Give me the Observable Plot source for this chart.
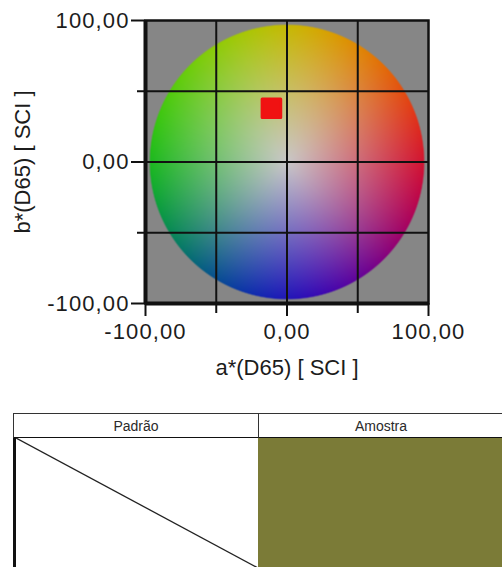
<!DOCTYPE html>
<html>
<head>
<meta charset="utf-8">
<script src="https://cdn.jsdelivr.net/npm/d3@7"></script>
<script src="https://cdn.jsdelivr.net/npm/@observablehq/plot@0.6"></script>
<style>
  html, body { margin: 0; padding: 0; background: #fff; overflow: hidden; width: 502px; height: 567px; }
  #chart svg { display: block; }
  #chart g[aria-label="x-axis tick label"] text,
  #chart g[aria-label="y-axis tick label"] text { letter-spacing: 1.1px; }
  #table { position: relative; width: 502px; height: 167px; overflow: hidden; font-family: "Liberation Sans", Arial, sans-serif; }
  .cell { position: absolute; box-sizing: border-box; }
  .head { border-top: 1.5px solid #333; border-left: 1.5px solid #333; border-right: 1.5px solid #333; border-bottom: 2px solid #111;
          font-size: 14px; color: #2a2a2a; text-align: center; display: flex; align-items: center; justify-content: center; background: #fff; }
  .body { border-right: 1.5px solid #333; }
  .body.first { border-left: 3px solid #111; }
</style>
</head>
<body>
<div id="chart"></div>
<div id="table"></div>
<script>
// ---- data ----
const axisDomain = [-100, 100];
const labeledTicks = [-100, 0, 100];
const minorTicks = [-50, 50];
const gridValues = [-50, 0, 50];
const sampleA = [-11];          // a*(D65)
const sampleB = [38];           // b*(D65)
const xTitle = ["a*(D65) [ SCI ]"];
const yTitle = ["b*(D65) [ SCI ]"];
const tableColumns = ["Padrão", "Amostra"];
const tableColors = [null, "#7b7b37"];   // Padrão: none (diagonal), Amostra: sample colour

// ---- colour wheel (background styling) ----
const wheelRadius = 97;
const bgGray = [134, 134, 134];
const centerGray = [200, 198, 199];
const hueStops = [ // every 45° counter-clockwise from +a
  "rgb(222,0,40)", "rgb(232,112,0)", "rgb(210,196,0)", "rgb(112,208,10)",
  "rgb(14,196,14)", "rgb(0,112,116)", "rgb(14,4,214)", "rgb(136,0,128)"
];
const hueRamp = d3.interpolateRgbBasisClosed(hueStops);
function wheelColor(a, b) {
  const r = Math.hypot(a, b);
  if (r > wheelRadius + 1) return `rgb(${bgGray.join(",")})`;
  let ang = Math.atan2(b, a) / (2 * Math.PI);
  if (ang < 0) ang += 1;
  const edge = d3.rgb(hueRamp(ang));
  const e = [edge.r, edge.g, edge.b];
  const t = Math.pow(Math.min(r / wheelRadius, 1), 1.05);
  const alpha = Math.max(0, Math.min(1, wheelRadius + 0.5 - r));
  const c = [0, 1, 2].map(k => {
    const v = centerGray[k] + (e[k] - centerGray[k]) * t;
    return Math.round(bgGray[k] + (v - bgGray[k]) * alpha);
  });
  return `rgb(${c.join(",")})`;
}

const fmt = d => d.toFixed(2).replace(".", ",");
const ink = "#111";
const samples = sampleA.map((a, i) => ({a, b: sampleB[i]}));

const plot = Plot.plot({
  width: 502,
  height: 400,
  marginLeft: 145,
  marginRight: 74,
  marginTop: 20,
  marginBottom: 97,
  x: {domain: axisDomain},
  y: {domain: axisDomain},
  color: {type: "identity"},
  style: {fontFamily: "'Liberation Sans', Arial, sans-serif", fontSize: "22px", color: "#1c1c1c", background: "#fff", overflow: "visible"},
  marks: [
    Plot.raster({x1: -100, x2: 100, y1: -100, y2: 100, fill: wheelColor, pixelSize: 1}),
    Plot.gridX(gridValues, {stroke: ink, strokeOpacity: 1, strokeWidth: 2}),
    Plot.gridY(gridValues, {stroke: ink, strokeOpacity: 1, strokeWidth: 2}),
    Plot.frame({stroke: ink, strokeWidth: 2.5}),
    Plot.ruleX([-100], {stroke: ink, strokeWidth: 4}),
    Plot.ruleY([-100], {stroke: ink, strokeWidth: 4}),
    Plot.axisX(labeledTicks, {tickSize: 13, tickPadding: 7, tickFormat: fmt, label: null, stroke: ink, strokeWidth: 2}),
    Plot.axisX(minorTicks, {tickSize: 10, tickFormat: () => "", label: null, stroke: ink, strokeWidth: 2}),
    Plot.axisY(labeledTicks, {tickSize: 14, tickPadding: 2, tickFormat: fmt, label: null, stroke: ink, strokeWidth: 2}),
    Plot.axisY(minorTicks, {tickSize: 8, tickFormat: () => "", label: null, stroke: ink, strokeWidth: 2}),
    Plot.text(xTitle, {frameAnchor: "bottom", dy: 64, textAnchor: "middle", lineAnchor: "middle", fill: "#1c1c1c"}),
    Plot.text(yTitle, {frameAnchor: "left", dx: -123, rotate: -90, textAnchor: "middle", lineAnchor: "middle", fill: "#1c1c1c"}),
    Plot.dot(samples, {x: "a", y: "b", symbol: "square", r: 10.5, fill: "#f01212", stroke: "#f01212", strokeWidth: 3, strokeLinejoin: "round"})
  ]
});
document.getElementById("chart").append(plot);

// ---- table below the chart ----
const colW = 245, left0 = 13, headTop = 13, headH = 26;
const tbl = d3.select("#table");
tableColumns.forEach((name, i) => {
  tbl.append("div").attr("class", "cell head")
    .style("left", `${left0 + i * colW}px`).style("top", `${headTop}px`)
    .style("width", `${colW + 1}px`).style("height", `${headH}px`)
    .text(name);
  const body = tbl.append("div").attr("class", "cell body" + (i === 0 ? " first" : ""))
    .style("left", `${left0 + i * colW}px`).style("top", `${headTop + headH - 1}px`)
    .style("width", `${colW + 1}px`).style("height", "130px")
    .style("background", tableColors[i] ?? "#fff");
  if (tableColors[i] == null) {
    body.append("svg").attr("width", "100%").attr("height", "100%")
      .attr("viewBox", "0 0 100 100").attr("preserveAspectRatio", "none")
      .style("display", "block")
      .append("line").attr("x1", 0).attr("y1", 0).attr("x2", 100).attr("y2", 100)
      .attr("stroke", "#222").attr("stroke-width", 1.3).attr("vector-effect", "non-scaling-stroke");
  }
});
</script>
</body>
</html>
